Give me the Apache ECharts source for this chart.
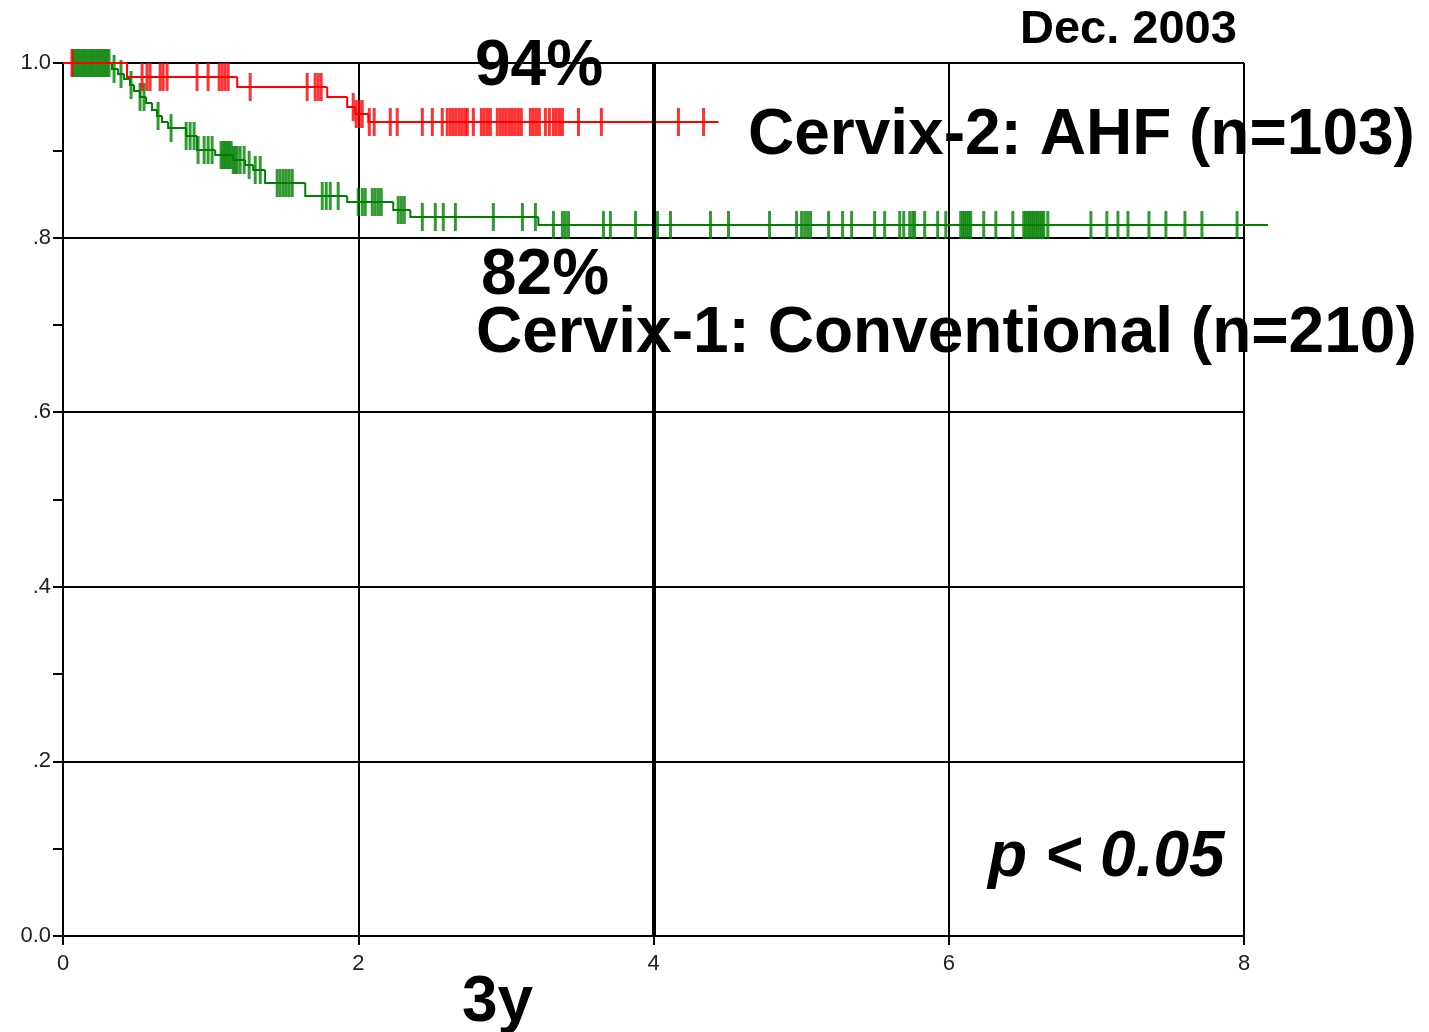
<!DOCTYPE html>
<html>
<head>
<meta charset="utf-8">
<script src="https://cdn.jsdelivr.net/npm/echarts@6/dist/echarts.min.js"></script>
<style>
  html, body { margin: 0; padding: 0; background: #fff; }
  #chart { width: 1429px; height: 1032px; }
</style>
</head>
<body>
<div id="chart"></div>
<script>
// Kaplan-Meier survival, years of follow-up
const xTickLabels = ['0', '2', '4', '6', '8'];
const yTickLabels = ['0.0', '.2', '.4', '.6', '.8', '1.0'];

// Cervix-2: AHF (n=103) — event times and survival level after each event
const ahfEventTimes = [0.434, 1.180, 1.790, 1.925, 1.980, 2.068];
const ahfLevels     = [0.984, 0.9725, 0.961, 0.9496, 0.9416, 0.9324];
const ahfLastFollowUp = 4.441;
const ahfCensored = [
  0.061, 0.536, 0.569, 0.590, 0.658, 0.678, 0.705, 0.908, 0.983, 1.058, 1.078,
  1.098, 1.119, 1.268, 1.654, 1.708, 1.729, 1.749, 1.966, 1.986, 2.007, 2.027,
  2.075, 2.108, 2.217, 2.264, 2.434, 2.502, 2.569, 2.603, 2.624, 2.644, 2.664,
  2.685, 2.705, 2.725, 2.739, 2.780, 2.834, 2.854, 2.875, 2.895, 2.942, 2.963,
  2.983, 3.003, 3.024, 3.044, 3.064, 3.085, 3.105, 3.166, 3.186, 3.207, 3.227,
  3.268, 3.295, 3.322, 3.342, 3.363, 3.383, 3.492, 3.647, 4.169, 4.339
];

// Cervix-1: Conventional (n=210)
const convEventTimes = [
  0.332, 0.373, 0.414, 0.454, 0.481, 0.522, 0.563, 0.603, 0.637, 0.671, 0.712,
  0.834, 0.908, 1.031, 1.153, 1.234, 1.288, 1.369, 1.641, 1.925, 2.237, 2.353, 3.220
];
const convLevels = [
  0.9931, 0.9874, 0.9817, 0.9748, 0.9679, 0.9611, 0.9542, 0.9462, 0.9393, 0.9324, 0.9255,
  0.9164, 0.9003, 0.8946, 0.8889, 0.8832, 0.8774, 0.8625, 0.8477, 0.8408, 0.8316, 0.8236, 0.8144
];
const convLastFollowUp = 8.163;
const convCensored = [
  0.068, 0.081, 0.095, 0.108, 0.122, 0.136, 0.149, 0.163, 0.176, 0.190, 0.203,
  0.217, 0.231, 0.244, 0.258, 0.271, 0.285, 0.298, 0.312,
  0.346, 0.393, 0.461, 0.522, 0.549, 0.644, 0.732,
  0.834, 0.861, 0.888, 0.915, 0.956, 0.983, 1.010,
  1.071, 1.085, 1.098, 1.112, 1.125, 1.139, 1.153, 1.166, 1.180,
  1.200, 1.227, 1.261, 1.302, 1.336,
  1.451, 1.471, 1.492, 1.512, 1.532, 1.553,
  1.756, 1.783, 1.810, 1.864,
  2.000, 2.027, 2.047, 2.095, 2.115, 2.136, 2.156,
  2.271, 2.292, 2.312,
  2.434, 2.522, 2.576, 2.658, 2.915, 3.112, 3.200,
  3.322, 3.383, 3.403, 3.424, 3.661, 3.708, 3.878, 4.027, 4.115, 4.386, 4.508,
  4.786, 4.969, 5.003, 5.024, 5.044, 5.064, 5.186, 5.281, 5.342, 5.498, 5.566,
  5.668, 5.695, 5.736, 5.756, 5.769, 5.837, 5.925, 5.980,
  6.081, 6.095, 6.108, 6.122, 6.136, 6.149, 6.237, 6.319, 6.434,
  6.508, 6.522, 6.536, 6.549, 6.563, 6.576, 6.590, 6.603, 6.617, 6.631, 6.644, 6.671,
  6.963, 7.071, 7.146, 7.214, 7.356, 7.471, 7.600, 7.715, 7.953
];

const RED = '#ff0000';
const GREEN = '#008000';

// step segments [start, end, level, previous level]: drop at start, flat to end
function stepSegments(times, levels, lastT) {
  const segs = [];
  let prev = 1;
  let start = 0;
  for (let i = 0; i <= times.length; i++) {
    const end = i < times.length ? times[i] : lastT;
    const lvl = i === 0 ? 1 : levels[i - 1];
    segs.push([start, end, lvl, prev]);
    prev = lvl;
    start = end;
  }
  return segs;
}
// survival level in effect at time t
function levelAt(times, levels, t) {
  let s = 1;
  for (let i = 0; i < times.length; i++) {
    if (times[i] <= t) s = levels[i]; else break;
  }
  return s;
}
function censorPoints(cens, times, levels) {
  return cens.map(t => [t, levelAt(times, levels, t)]);
}

function stepRenderer(color) {
  return function (params, api) {
    const x0 = api.value(0), x1 = api.value(1), lvl = api.value(2), prev = api.value(3);
    const a = api.coord([x0, prev]);
    const b = api.coord([x0, lvl]);
    const c = api.coord([x1, lvl]);
    return {
      type: 'polyline',
      shape: { points: [a, b, c] },
      style: { stroke: color, lineWidth: 2, fill: null }
    };
  };
}

const chart = echarts.init(document.getElementById('chart'), null, { renderer: 'canvas' });

const bigFont = '"Liberation Sans", Arial, sans-serif';
function label(text, x, y, size, extra) {
  return {
    type: 'text', x: x, y: y, silent: true, z: 100,
    style: Object.assign({
      text: text, fill: '#000',
      font: 'bold ' + size + 'px ' + bigFont,
      align: 'left', verticalAlign: 'middle'
    }, extra || {})
  };
}

const option = {
  animation: false,
  backgroundColor: '#fff',
  grid: { left: 63, top: 63, width: 1181, height: 873, containLabel: false },
  xAxis: {
    type: 'value', min: 0, max: 8, interval: 2,
    axisLine: { show: true, onZero: false, lineStyle: { color: '#000', width: 2 } },
    axisTick: { show: true, inside: false, length: 9, lineStyle: { color: '#000', width: 2 } },
    splitLine: { show: true, lineStyle: { color: '#000', width: 2 } },
    axisLabel: {
      margin: 17, fontSize: 22, color: '#222', fontFamily: bigFont,
      formatter: v => xTickLabels[Math.round(v / 2)]
    }
  },
  yAxis: {
    type: 'value', min: 0, max: 1, interval: 0.2,
    axisLine: { show: true, onZero: false, lineStyle: { color: '#000', width: 2 } },
    axisTick: { show: true, inside: false, length: 10, lineStyle: { color: '#000', width: 2 } },
    minorTick: { show: true, splitNumber: 2, length: 10, lineStyle: { color: '#000', width: 2 } },
    splitLine: { show: true, lineStyle: { color: '#000', width: 2 } },
    axisLabel: {
      margin: 12, fontSize: 22, color: '#222', fontFamily: bigFont,
      formatter: v => yTickLabels[Math.round(v / 0.2)]
    }
  },
  series: [
    {
      // heavier reference line at 4 years
      type: 'line', data: [], z: 1, silent: true,
      markLine: {
        silent: true, symbol: ['none', 'none'], label: { show: false },
        lineStyle: { color: '#000', width: 4, type: 'solid' },
        data: [{ xAxis: 4 }]
      }
    },
    {
      name: 'Cervix-1: Conventional', type: 'custom',
      data: stepSegments(convEventTimes, convLevels, convLastFollowUp),
      encode: { x: [0, 1], y: [2, 3] },
      renderItem: stepRenderer(GREEN), clip: false, z: 3, silent: true
    },
    {
      name: 'Conventional censored', type: 'scatter',
      data: censorPoints(convCensored, convEventTimes, convLevels),
      symbol: 'rect', symbolSize: [3, 28], clip: false, z: 3,
      itemStyle: { color: GREEN }
    },
    {
      name: 'Cervix-2: AHF', type: 'custom',
      data: stepSegments(ahfEventTimes, ahfLevels, ahfLastFollowUp),
      encode: { x: [0, 1], y: [2, 3] },
      renderItem: stepRenderer(RED), clip: false, z: 4, silent: true
    },
    {
      name: 'AHF censored', type: 'scatter',
      data: censorPoints(ahfCensored, ahfEventTimes, ahfLevels),
      symbol: 'rect', symbolSize: [3, 28], clip: false, z: 4,
      itemStyle: { color: RED }
    }
  ],
  graphic: [
    label('Dec. 2003', 1020, 30, 47),
    label('94%', 475, 67, 64),
    label('Cervix-2: AHF (n=103)', 748, 136, 64),
    label('82%', 481, 276, 64),
    label('Cervix-1: Conventional (n=210)', 476, 334, 64),
    label('p < 0.05', 988, 858, 64, { font: 'italic bold 64px ' + bigFont }),
    label('3y', 462, 1003, 64)
  ]
};

chart.setOption(option);
</script>
</body>
</html>
